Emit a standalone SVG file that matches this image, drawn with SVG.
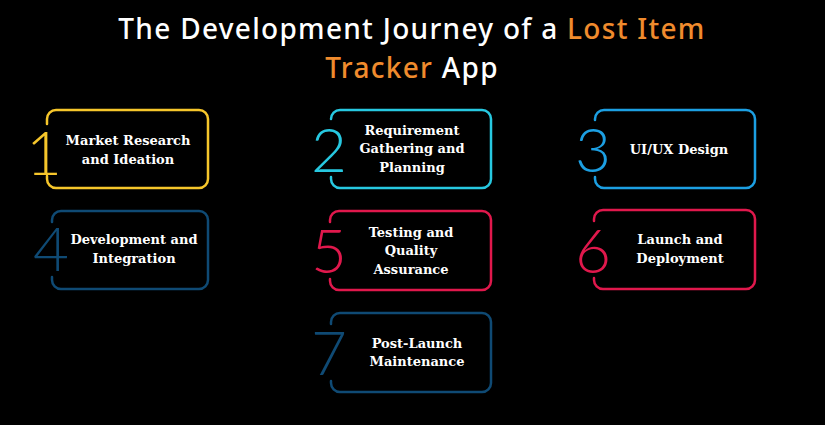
<svg xmlns="http://www.w3.org/2000/svg" width="825" height="425" viewBox="0 0 825 425">
<style>
.bg{fill:#000}
.title{font-family:"Noto Sans","Liberation Sans",sans-serif;font-size:28px;font-weight:500;letter-spacing:1.3px;fill:#fff}
.hl{fill:#f08b2d}
.box{fill:none;stroke-width:2.5;stroke-linecap:round}
.num{font-family:Lato,"Noto Sans",sans-serif;font-weight:300;font-size:62px;text-anchor:middle}
.lbl{font-family:"DejaVu Serif","Liberation Serif",serif;font-weight:bold;font-size:13px;fill:#fff;text-anchor:middle}
.c1{stroke:#f6c62b;fill:#f6c62b}
.c2{stroke:#27c8e0;fill:#27c8e0}
.c3{stroke:#1c9fe2;fill:#1c9fe2}
.c4{stroke:#0f4a74;fill:#0f4a74}
.c5{stroke:#e0184c;fill:#e0184c}
</style>
<rect class="bg" x="0" y="0" width="825" height="425"/>
<g id="title">
<text class="title" x="412" y="39" text-anchor="middle">The Development Journey of a <tspan class="hl">Lost Item</tspan></text>
<text class="title" x="412" y="78" text-anchor="middle"><tspan class="hl">Tracker</tspan> App</text>
</g>
<g id="connectors"></g>
<g id="node1">
<path class="box c1" style="fill:none" d="M47,124 V119 A9,9 0 0 1 56,110 H199 A9,9 0 0 1 208,119 V179 A9,9 0 0 1 199,188 H56 A9,9 0 0 1 47,179 V176"/>
<text class="num c1" style="stroke:none" x="44" y="175">1</text>
<text class="lbl" x="128" y="145">Market Research</text>
<text class="lbl" x="128" y="164">and Ideation</text>
</g>
<g id="node2">
<path class="box c2" style="fill:none" d="M331,119 A9,9 0 0 1 340,110 H482 A9,9 0 0 1 491,119 V179 A9,9 0 0 1 482,188 H340 A9,9 0 0 1 331,179 V177"/>
<text class="num c2" style="stroke:none" x="329" y="172">2</text>
<text class="lbl" x="412" y="135">Requirement</text>
<text class="lbl" x="412" y="153">Gathering and</text>
<text class="lbl" x="412" y="172">Planning</text>
</g>
<g id="node3">
<path class="box c3" style="fill:none" d="M595,120 V119 A9,9 0 0 1 604,110 H746 A9,9 0 0 1 755,119 V179 A9,9 0 0 1 746,188 H604 A9,9 0 0 1 595,179 V177"/>
<text class="num c3" style="stroke:none" x="593" y="172">3</text>
<text class="lbl" x="679" y="154">UI/UX Design</text>
</g>
<g id="node4">
<path class="box c4" style="fill:none" d="M52,222 V220 A9,9 0 0 1 61,211 H199 A9,9 0 0 1 208,220 V280 A9,9 0 0 1 199,289 H61 A9,9 0 0 1 52,280 V277"/>
<text class="num c4" style="stroke:none" x="51" y="271">4</text>
<text class="lbl" x="134" y="244">Development and</text>
<text class="lbl" x="134" y="263">Integration</text>
</g>
<g id="node5">
<path class="box c5" style="fill:none" d="M330,222 V220 A9,9 0 0 1 339,211 H482 A9,9 0 0 1 491,220 V281 A9,9 0 0 1 482,290 H339 A9,9 0 0 1 330,281 V279"/>
<text class="num c5" style="stroke:none" x="329" y="273">5</text>
<text class="lbl" x="411" y="237">Testing and</text>
<text class="lbl" x="411" y="255">Quality</text>
<text class="lbl" x="411" y="274">Assurance</text>
</g>
<g id="node6">
<path class="box c5" style="fill:none" d="M594,221 V219 A9,9 0 0 1 603,210 H746 A9,9 0 0 1 755,219 V280 A9,9 0 0 1 746,289 H603 A9,9 0 0 1 594,280 V278"/>
<text class="num c5" style="stroke:none" x="593" y="273">6</text>
<text class="lbl" x="680" y="244">Launch and</text>
<text class="lbl" x="680" y="263">Deployment</text>
</g>
<g id="node7">
<path class="box c4" style="fill:none" d="M331,324 V322 A9,9 0 0 1 340,313 H482 A9,9 0 0 1 491,322 V383 A9,9 0 0 1 482,392 H340 A9,9 0 0 1 331,383 V381"/>
<text class="num c4" style="stroke:none" x="329" y="375">7</text>
<text class="lbl" x="417" y="348">Post-Launch</text>
<text class="lbl" x="417" y="366">Maintenance</text>
</g>
</svg>
